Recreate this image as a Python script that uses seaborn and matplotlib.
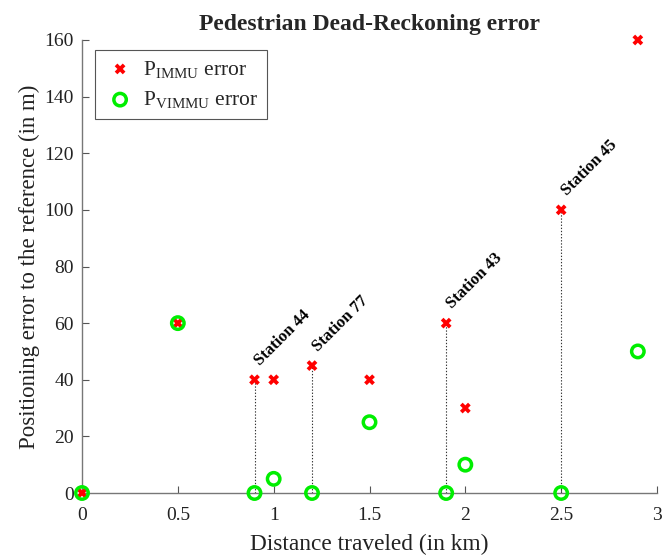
import matplotlib
matplotlib.use("Agg")
import matplotlib.pyplot as plt
import numpy as np
import pandas as pd
import seaborn as sns

# Distance travelled (km) and positioning error (m) for both solutions
distance_km = [0, 0.5, 0.9, 1.0, 1.2, 1.5, 1.9, 2.0, 2.5, 2.9]
immu_error = [0, 60, 40, 40, 45, 40, 60, 30, 100, 160]
vimmu_error = [0, 60, 0, 5, 0, 25, 0, 10, 0, 50]

# Reference stations passed along the route
station_names = ["Station 44", "Station 77", "Station 43", "Station 45"]
station_km = [0.9, 1.2, 1.9, 2.5]
station_immu = [40, 45, 60, 100]

x_ticks = [0, 0.5, 1, 1.5, 2, 2.5, 3]
x_tick_labels = ["0", "0.5", "1", "1.5", "2", "2.5", "3"]
y_ticks = [0, 20, 40, 60, 80, 100, 120, 140, 160]

sns.set_style("ticks")
plt.rcParams["font.family"] = ["Liberation Serif", "DejaVu Serif"]
plt.rcParams["mathtext.fontset"] = "custom"
plt.rcParams["mathtext.rm"] = "Liberation Serif"
plt.rcParams["mathtext.it"] = "Liberation Serif:italic"
plt.rcParams["mathtext.bf"] = "Liberation Serif:bold"

df = pd.DataFrame({"distance": distance_km, "immu": immu_error, "vimmu": vimmu_error})

fig = plt.figure(figsize=(6.62, 5.56), dpi=100)
ax = fig.add_axes([82 / 662, 63 / 556, 575 / 662, 453 / 556])

# Dotted guides from the axis up to each station's IMMU error
ax.vlines(station_km, 0, station_immu, colors="#333333", linestyles=(0, (1.2, 1.6)),
          linewidth=0.8, zorder=1)

sns.scatterplot(data=df, x="distance", y="immu", ax=ax, marker="X", s=60,
                color="#ff0000", edgecolor="none", linewidth=0,
                label=r"$\mathrm{P}_{\mathrm{IMMU}}$ error", zorder=3, clip_on=False)
sns.scatterplot(data=df, x="distance", y="vimmu", ax=ax, marker="o", s=80,
                facecolor="none", edgecolor="#00ee00", linewidth=2.5,
                label=r"$\mathrm{P}_{\mathrm{VIMMU}}$ error", zorder=4, clip_on=False)

for name, xk, yv in zip(station_names, station_km, station_immu):
    ax.annotate(name, xy=(xk, yv), xytext=(4, 10), textcoords="offset points",
                rotation=45, rotation_mode="anchor", ha="left", va="baseline",
                fontsize=12, fontweight="bold", color="black")

ax.set_xlim(0, 3)
ax.set_ylim(0, 160)
ax.set_xticks(x_ticks)
ax.set_xticklabels(x_tick_labels)
ax.set_yticks(y_ticks)
ax.tick_params(direction="in", length=5, width=0.8, color="#555555",
               labelsize=14, labelcolor="#222222")
ax.tick_params(axis="x", pad=10)
ax.tick_params(axis="y", pad=6)

sns.despine(ax=ax)
for side in ("left", "bottom"):
    ax.spines[side].set_color("#777777")
    ax.spines[side].set_linewidth(1.0)

ax.set_xlabel("Distance traveled (in km)", fontsize=16.8, color="#222222", labelpad=7)
ax.set_ylabel("Positioning error to the reference (in m)", fontsize=16.5,
              color="#222222", labelpad=3)
ax.set_title("Pedestrian Dead-Reckoning error", fontsize=17, fontweight="bold",
             pad=7)

leg = ax.legend(loc="upper left", bbox_to_anchor=(0.0226, 0.978), borderaxespad=0,
                fontsize=15.5, frameon=True, fancybox=False, framealpha=1,
                borderpad=0.4, handletextpad=0.3, labelspacing=0.45,
                handlelength=1.53)
leg.get_frame().set_edgecolor("#555555")
leg.get_frame().set_linewidth(0.8)

fig.savefig("out.png", dpi=100)
